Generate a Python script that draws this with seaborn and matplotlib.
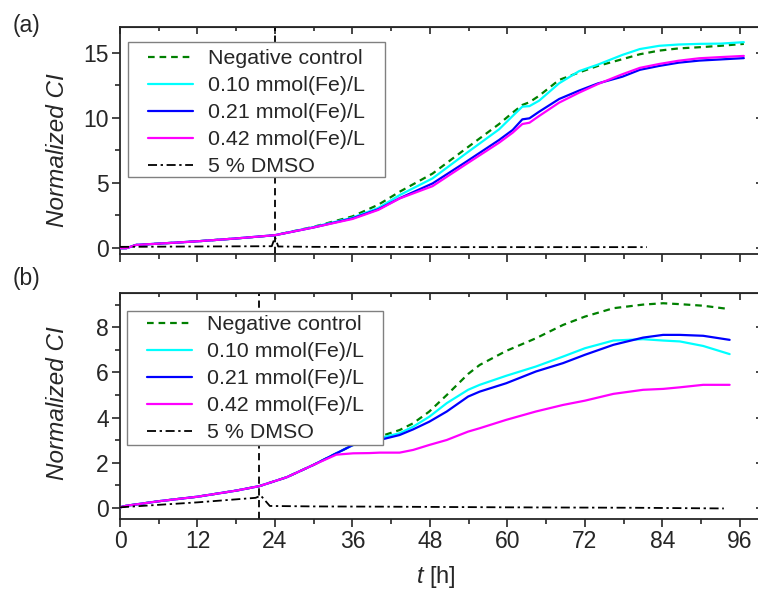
import numpy as np
import pandas as pd
import matplotlib
matplotlib.use("Agg")
import matplotlib.pyplot as plt
from matplotlib.ticker import MultipleLocator
from matplotlib.patches import Rectangle
import seaborn as sns

# ---------------- data ----------------
labels = ["Negative control", "0.10 mmol(Fe)/L", "0.21 mmol(Fe)/L", "0.42 mmol(Fe)/L", "5 % DMSO"]

# panel (a)
t_a = [0, 1, 2.5, 6, 12, 18, 24, 30, 36, 40, 43.3, 48.4, 53.6, 58.7, 60.8, 62.3, 63.4,
       64.9, 68, 71.1, 74, 77.8, 80.5, 83.5, 86.5, 89.7, 93, 96.6]
neg_a = [-0.05, -0.05, 0.2, 0.3, 0.48, 0.7, 0.95, 1.6, 2.4, 3.3, 4.3, 5.7, 7.64, 9.52, 10.4,
         10.99, 11.2, 11.7, 12.92, 13.5, 14.0, 14.52, 14.9, 15.18, 15.35, 15.44, 15.55, 15.7]
c010_a = [-0.05, -0.05, 0.2, 0.3, 0.48, 0.7, 0.95, 1.58, 2.3, 3.05, 4.04, 5.33, 7.26, 9.11,
          10.14, 10.86, 10.9, 11.32, 12.66, 13.6, 14.1, 14.85, 15.3, 15.55, 15.65, 15.7, 15.72, 15.83]
c021_a = [-0.05, -0.05, 0.2, 0.3, 0.48, 0.7, 0.95, 1.55, 2.25, 2.95, 3.8, 4.94, 6.61, 8.29,
          9.06, 9.88, 9.96, 10.47, 11.45, 12.1, 12.65, 13.17, 13.7, 14.0, 14.25, 14.41, 14.5, 14.6]
c042_a = [-0.05, -0.05, 0.2, 0.3, 0.48, 0.7, 0.95, 1.55, 2.2, 2.9, 3.78, 4.73, 6.43, 8.08,
          8.85, 9.52, 9.62, 10.14, 11.17, 11.94, 12.6, 13.36, 13.85, 14.15, 14.4, 14.59, 14.68, 14.77]
t_dmso_a = [0, 12, 23.5, 24, 24.5, 30, 50, 70, 81.6]
dmso_a = [0.05, 0.08, 0.1, 0.8, 0.08, 0.05, 0.03, 0.03, 0.03]
treat_a = 24

# panel (b)
t_b = [0, 1, 6, 12, 18, 21.6, 25.8, 29.9, 33.5, 36.1, 38.6, 40.2, 43.3, 45.4, 47.9, 50.6,
       53.9, 55.7, 59.8, 64.4, 68.6, 72.0, 76.4, 81.0, 84.1, 86.7, 90.3, 94.4]
neg_b = [0.03, 0.1, 0.3, 0.5, 0.77, 0.97, 1.36, 1.9, 2.42, 2.79, 3.02, 3.16, 3.45, 3.75,
         4.27, 5.0, 5.93, 6.33, 6.95, 7.51, 8.1, 8.47, 8.84, 9.0, 9.06, 9.02, 8.95, 8.8]
c010_b = [0.03, 0.1, 0.3, 0.5, 0.77, 0.97, 1.36, 1.9, 2.42, 2.79, 3.0, 3.09, 3.31, 3.6,
          4.04, 4.64, 5.23, 5.45, 5.85, 6.26, 6.7, 7.07, 7.41, 7.47, 7.41, 7.37, 7.17, 6.81]
c021_b = [0.03, 0.1, 0.3, 0.5, 0.77, 0.97, 1.36, 1.9, 2.42, 2.79, 2.96, 3.01, 3.23, 3.48,
          3.82, 4.27, 4.93, 5.15, 5.52, 6.04, 6.41, 6.78, 7.22, 7.54, 7.66, 7.66, 7.62, 7.44]
c042_b = [0.03, 0.1, 0.3, 0.5, 0.77, 0.97, 1.36, 1.9, 2.36, 2.42, 2.43, 2.45, 2.45, 2.57,
          2.79, 3.01, 3.38, 3.53, 3.9, 4.27, 4.56, 4.75, 5.05, 5.23, 5.27, 5.34, 5.45, 5.45]
t_dmso_b = [0, 12, 21.0, 21.8, 23.2, 30, 40, 60, 80, 93.5]
dmso_b = [0.03, 0.25, 0.45, 0.55, 0.09, 0.07, 0.06, 0.03, 0.01, -0.02]
treat_b = 21.6

x_ticks = [0, 12, 24, 36, 48, 60, 72, 84, 96]

# ---------------- style ----------------
sns.set_style("ticks")
plt.rcParams["font.family"] = ["Liberation Sans", "DejaVu Sans"]
plt.rcParams["mathtext.fontset"] = "custom"
plt.rcParams["mathtext.it"] = "Liberation Sans:italic"
plt.rcParams["mathtext.rm"] = "Liberation Sans"

colors = ["#008000", "#00FFFF", "#0000FF", "#FF00FF", "#000000"]
styles = [(0, (3, 2.2)), "-", "-", "-", (0, (5, 2, 1.3, 2))]

fig = plt.figure(figsize=(7.58, 5.90), dpi=100)
W, H = 758, 590
LEFT, RIGHT = 120, 763
XMAX = (RIGHT - LEFT) / 6.458


def make_ax(top_px, bot_px):
    return fig.add_axes([LEFT / W, 1 - bot_px / H, (RIGHT - LEFT) / W, (bot_px - top_px) / H])


panels = [
    dict(top=27, bot=254, t=t_a, series=[neg_a, c010_a, c021_a, c042_a], td=t_dmso_a,
         dm=dmso_a, treat=treat_a, ylim=(-0.5, 17), ymaj=5, ymin=2.5,
         box=(128, 42, 385, 177), leg=(148, 49.5), ylab_y=150),
    dict(top=293.3, bot=519.3, t=t_b, series=[neg_b, c010_b, c021_b, c042_b], td=t_dmso_b,
         dm=dmso_b, treat=treat_b, ylim=(-0.5, 9.5), ymaj=2, ymin=1,
         box=(127, 310.7, 383, 445), leg=(146.7, 315.5), ylab_y=403),
]

axes = []
for p in panels:
    ax = make_ax(p["top"], p["bot"])
    axes.append(ax)
    hpx = p["bot"] - p["top"]
    wpx = RIGHT - LEFT
    fx = lambda x: (x - LEFT) / wpx
    fy = lambda y: 1 - (y - p["top"]) / hpx

    ax.axvline(p["treat"], color="black", lw=1.3, ls=(0, (4, 2.5)), zorder=1)
    for i, ys in enumerate(p["series"]):
        df = pd.DataFrame({"t": p["t"], "ci": ys})
        sns.lineplot(data=df, x="t", y="ci", ax=ax, color=colors[i], linestyle=styles[i],
                     lw=1.6, label=labels[i], estimator=None, sort=False, zorder=2 + i)
    df = pd.DataFrame({"t": p["td"], "ci": p["dm"]})
    sns.lineplot(data=df, x="t", y="ci", ax=ax, color=colors[4], linestyle=styles[4],
                 lw=1.3, label=labels[4], estimator=None, sort=False, zorder=7)

    ax.set_xlim(0, XMAX)
    ax.set_ylim(*p["ylim"])
    ax.set_xticks(x_ticks)
    ax.xaxis.set_minor_locator(MultipleLocator(6))
    ax.yaxis.set_major_locator(MultipleLocator(p["ymaj"]))
    ax.yaxis.set_minor_locator(MultipleLocator(p["ymin"]))
    ax.tick_params(which="major", direction="out", length=6, width=1.2, labelsize=16.5, pad=2)
    ax.tick_params(which="minor", direction="out", length=3.5, width=1.2)
    for s in ax.spines.values():
        s.set_linewidth(1.3)
    ax.set_ylabel("Normalized CI", fontsize=17.5, fontstyle="italic")
    ax.yaxis.set_label_coords(fx(69), fy(p["ylab_y"]))
    ax.set_xlabel("")

    # mirrored inward ticks on top and right
    sx = ax.secondary_xaxis("top")
    sx.set_xticks(x_ticks)
    sx.xaxis.set_minor_locator(MultipleLocator(6))
    sx.tick_params(which="major", direction="in", length=5, width=1.2, labeltop=False)
    sx.tick_params(which="minor", direction="in", length=3, width=1.2)
    sy = ax.secondary_yaxis("right")
    sy.yaxis.set_major_locator(MultipleLocator(p["ymaj"]))
    sy.yaxis.set_minor_locator(MultipleLocator(p["ymin"]))
    sy.tick_params(which="major", direction="in", length=5, width=1.2, labelright=False)
    sy.tick_params(which="minor", direction="in", length=3, width=1.2)

    # legend frame
    x0, y0, x1, y1 = p["box"]
    ax.add_patch(Rectangle((fx(x0), fy(y1)), fx(x1) - fx(x0), fy(y0) - fy(y1),
                           transform=ax.transAxes, facecolor="white", edgecolor="#808080",
                           lw=1.0, zorder=15, clip_on=False))
    leg = ax.legend(loc="upper left", bbox_to_anchor=(fx(p["leg"][0]), fy(p["leg"][1])),
                    borderaxespad=0, borderpad=0, fontsize=15.4, frameon=False,
                    handlelength=2.1, handletextpad=0.7, labelspacing=0.37)
    leg.set_zorder(20)

axes[0].tick_params(axis="x", labelbottom=False)
axes[1].set_xlabel("$t$ [h]", fontsize=17)
axes[1].xaxis.set_label_coords((436 - LEFT) / (RIGHT - LEFT), (519.3 - 564) / 226)

fig.text(13 / W, 1 - 14 / H, "(a)", fontsize=16.5, ha="left", va="top")
fig.text(13 / W, 1 - 267 / H, "(b)", fontsize=16.5, ha="left", va="top")

fig.savefig("out.png", dpi=100, facecolor="white")
